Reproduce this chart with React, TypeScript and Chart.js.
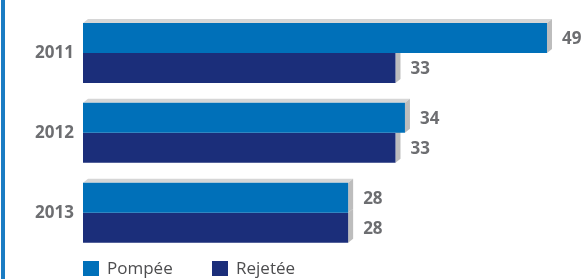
import React, { useEffect, useRef } from "react";
import { Chart, registerables } from "chart.js";

Chart.register(...registerables);

const years = ["2011", "2012", "2013"];
const seriesNames = ["Pompée", "Rejetée"];
const pompee = [49, 34, 28];
const rejetee = [33, 33, 28];
const colors = ["#0070b9", "#1b2e7a"];
const titleText = "Volume d'eau pompée et rejetée (en millions de m³)";

const GRAY = "#6d6e71";
const FONT = "'Open Sans', 'DejaVu Sans', sans-serif";

const depthPlugin = {
  id: "depth3d",
  beforeDatasetsDraw(chart: any) {
    const ctx = chart.ctx;
    const dx = 5;
    const dy = -4;
    ctx.save();
    chart.data.datasets.forEach((ds: any, di: number) => {
      const meta = chart.getDatasetMeta(di);
      meta.data.forEach((bar: any) => {
        const right = bar.x;
        const left = bar.base;
        const top = bar.y - bar.height / 2;
        const bottom = bar.y + bar.height / 2;
        if (di === 0) {
          ctx.fillStyle = "#d6d6d6";
          ctx.beginPath();
          ctx.moveTo(left, top);
          ctx.lineTo(left + dx, top + dy);
          ctx.lineTo(right + dx, top + dy);
          ctx.lineTo(right, top);
          ctx.closePath();
          ctx.fill();
        }
        ctx.fillStyle = "#bdbdbd";
        ctx.beginPath();
        ctx.moveTo(right, top);
        ctx.lineTo(right + dx, top + dy);
        ctx.lineTo(right + dx, bottom + dy);
        ctx.lineTo(right, bottom);
        ctx.closePath();
        ctx.fill();
      });
    });
    ctx.restore();
  },
  afterDatasetsDraw(chart: any) {
    const ctx = chart.ctx;
    ctx.save();
    ctx.font = `bold 17px ${FONT}`;
    ctx.fillStyle = GRAY;
    ctx.textAlign = "left";
    ctx.textBaseline = "middle";
    chart.data.datasets.forEach((ds: any, di: number) => {
      const meta = chart.getDatasetMeta(di);
      meta.data.forEach((bar: any, i: number) => {
        ctx.fillText(String(ds.data[i]), bar.x + 15, bar.y + 1);
      });
    });
    ctx.restore();
  },
  afterDraw(chart: any) {
    const ctx = chart.ctx;
    const left = chart.chartArea.left;
    const items = [
      { x: left, label: seriesNames[0], color: colors[0] },
      { x: left + 129, label: seriesNames[1], color: colors[1] },
    ];
    ctx.save();
    ctx.font = `17px ${FONT}`;
    ctx.textBaseline = "middle";
    ctx.textAlign = "left";
    items.forEach((it) => {
      ctx.fillStyle = it.color;
      ctx.fillRect(it.x, 261, 16, 15);
      ctx.fillStyle = "#4d4d4f";
      ctx.fillText(it.label, it.x + 24, 269);
    });
    ctx.restore();
  },
};

export default function App() {
  const ref = useRef<HTMLCanvasElement>(null);
  useEffect(() => {
    if (!ref.current) return;
    const chart = new Chart(ref.current, {
      type: "bar",
      data: {
        labels: years,
        datasets: [
          {
            label: seriesNames[0],
            data: pompee,
            backgroundColor: colors[0],
            borderWidth: 0,
            barPercentage: 1,
            categoryPercentage: 0.751,
          },
          {
            label: seriesNames[1],
            data: rejetee,
            backgroundColor: colors[1],
            borderWidth: 0,
            barPercentage: 1,
            categoryPercentage: 0.751,
          },
        ],
      },
      options: {
        indexAxis: "y",
        animation: false,
        responsive: false,
        maintainAspectRatio: false,
        layout: { padding: { top: 13, bottom: 26.4, left: 0, right: 8.6 } },
        plugins: {
          legend: { display: false },
          tooltip: { enabled: false },
          title: { display: false },
        },
        scales: {
          x: { display: false, min: 0, max: 52 },
          y: {
            grid: { display: false, drawTicks: false },
            border: { display: false },
            ticks: {
              color: GRAY,
              font: { family: FONT, size: 17, weight: "bold" },
              padding: 9,
            },
            afterFit: (scale: any) => {
              scale.width = 83;
              scale.paddingTop = 0;
              scale.paddingBottom = 0;
            },
          },
        },
      },
      plugins: [depthPlugin],
    } as any);
    return () => chart.destroy();
  }, []);

  return (
    <div
      style={{
        position: "fixed",
        left: 0,
        top: 0,
        width: 584,
        height: 279,
        background: "#ffffff",
        overflow: "hidden",
      }}
    >
      <div
        style={{
          position: "absolute",
          left: 1,
          top: 0,
          width: 4,
          height: 279,
          background: "#1a7cc3",
        }}
      />
      <div
        style={{
          position: "absolute",
          left: 20,
          top: -22,
          font: `17px ${FONT}`,
          lineHeight: "20px",
          color: GRAY,
          whiteSpace: "nowrap",
        }}
      >
        {titleText}
      </div>
      <canvas
        ref={ref}
        width={584}
        height={279}
        style={{ position: "absolute", left: 0, top: 0, width: 584, height: 279 }}
      />
    </div>
  );
}
